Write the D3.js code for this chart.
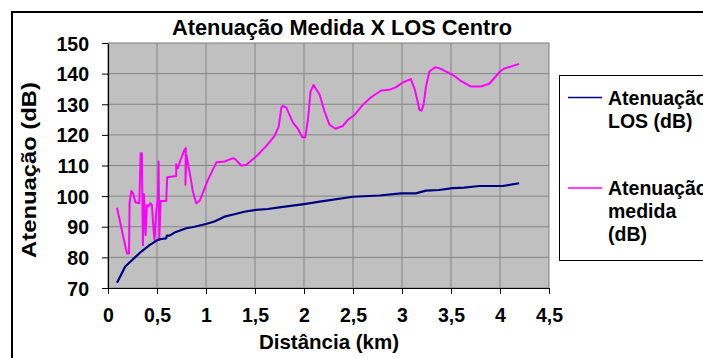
<!DOCTYPE html>
<html>
<head>
<meta charset="utf-8">
<script src="https://cdn.jsdelivr.net/npm/d3@7"></script>
<style>
  html, body { margin: 0; padding: 0; background: #fff; }
  svg { display: block; }
  text { font-family: "Liberation Sans", Arial, sans-serif; font-weight: bold; fill: #000; }
</style>
</head>
<body>
<script>
// ---- data ----
const title = "Atenuação Medida X LOS Centro";
const xTitle = "Distância (km)";
const yTitle = "Atenuação (dB)";
const xTicks = [0, 0.5, 1, 1.5, 2, 2.5, 3, 3.5, 4, 4.5];
const yTicks = [70, 80, 90, 100, 110, 120, 130, 140, 150];
const seriesNames = [["Atenuação", "LOS (dB)"], ["Atenuação", "medida", "(dB)"]];
const seriesColors = ["#000080", "#ff00ff"];

const distLOS = [0.092,0.176,0.255,0.34,0.424,0.509,0.543,0.594,0.6,0.628,0.679,0.797,0.882,1.0,1.086,1.188,1.29,1.39,1.51,1.63,1.765,1.884,2.0,2.16,2.5,2.77,2.99,3.14,3.245,3.38,3.516,3.635,3.79,4.025,4.195];
const attLOS  = [71.7,77,79.4,81.9,84,85.7,86,86.2,87.1,87.1,88.1,89.5,90,90.9,91.7,93.3,94.1,94.9,95.5,95.8,96.4,96.9,97.4,98.2,99.8,100.2,100.9,100.9,101.8,102,102.6,102.8,103.3,103.3,104.2];

const distMeas = [0.092,0.193,0.215,0.22,0.238,0.255,0.28,0.32,0.333,0.346,0.356,0.367,0.384,0.397,0.414,0.431,0.448,0.465,0.475,0.492,0.509,0.516,0.523,0.537,0.594,0.604,0.696,0.696,0.713,0.74,0.78,0.794,0.79,0.80,0.832,0.866,0.9,0.934,1.02,1.107,1.19,1.276,1.3,1.36,1.41,1.53,1.616,1.70,1.742,1.769,1.785,1.82,1.887,1.938,1.983,2.013,2.04,2.067,2.098,2.16,2.21,2.26,2.32,2.396,2.447,2.515,2.6,2.685,2.787,2.87,2.94,3.007,3.09,3.126,3.16,3.177,3.2,3.22,3.245,3.28,3.337,3.38,3.466,3.55,3.6,3.70,3.805,3.89,3.94,4.0,4.04,4.11,4.195];
const attMeas  = [96.2,81.3,81.3,97.7,101.7,101,98,97.7,114,114,84,100.6,87.3,97.1,96.6,97.7,97.1,89,85.7,95,99.3,111.3,85.7,98.4,98.4,106.2,106.6,110.4,109.1,111.8,115.1,115.7,103.7,113.5,108,101.5,97.7,98.4,105.3,111.1,111.3,112.4,112,110,110.2,113.5,116.4,119.7,122.7,128.9,129.5,128.9,124,122,119.2,119.2,124.9,134.2,136.3,133.1,127.6,123.3,122,122.9,124.9,126.5,129.8,132.3,134.5,134.7,135.6,137.1,138.2,135.3,130.9,128.2,127.9,129.8,135.8,140.7,142.1,141.8,140.4,138.9,137.6,135.8,135.8,136.7,138.5,140.7,141.6,142.3,143.2];

// ---- layout ----
const W = 703, H = 358;
const plot = { left: 108, right: 549, top: 43, bottom: 288 };

const svg = d3.select("body").append("svg").attr("width", W).attr("height", H);

// outer frame (extends beyond the visible window)
svg.append("rect").attr("x", 12).attr("y", 12).attr("width", 760).attr("height", 400)
  .attr("fill", "#fff").attr("stroke", "#000").attr("stroke-width", 2);

const x = d3.scaleLinear().domain([0, 4.5]).range([plot.left, plot.right]);
const y = d3.scaleLinear().domain([70, 150]).range([plot.bottom, plot.top]);

// plot background
svg.append("rect").attr("x", plot.left).attr("y", plot.top)
  .attr("width", plot.right - plot.left).attr("height", plot.bottom - plot.top)
  .attr("fill", "#c0c0c0").attr("stroke", "#808080").attr("stroke-width", 1);

// grid
svg.append("g").selectAll("line").data(yTicks.slice(1, -1)).join("line")
  .attr("x1", plot.left).attr("x2", plot.right)
  .attr("y1", d => y(d)).attr("y2", d => y(d))
  .attr("stroke", "#858585").attr("stroke-width", 1);
svg.append("g").selectAll("line").data(xTicks.slice(1, -1)).join("line")
  .attr("y1", plot.top).attr("y2", plot.bottom)
  .attr("x1", d => x(d)).attr("x2", d => x(d))
  .attr("stroke", "#858585").attr("stroke-width", 1);

// axes
const fmtX = d => String(d).replace(".", ",");
const gx = svg.append("g").attr("transform", `translate(0,${plot.bottom})`)
  .call(d3.axisBottom(x).tickValues(xTicks).tickFormat(fmtX).tickSize(6).tickSizeOuter(0));
gx.select(".domain").attr("stroke", "#000").attr("stroke-width", 1.2);
gx.selectAll(".tick line").attr("stroke", "#000");
gx.selectAll("text").attr("y", 34).attr("dy", 0)
  .style("font-size", "19.5px").style("font-family", "Liberation Sans, Arial, sans-serif").style("font-weight", "bold").attr("fill", "#000");

const gy = svg.append("g").attr("transform", `translate(${plot.left},0)`)
  .call(d3.axisLeft(y).tickValues(yTicks).tickFormat(d3.format("d")).tickSize(6).tickSizeOuter(0));
gy.select(".domain").attr("stroke", "#000").attr("stroke-width", 1.2);
gy.selectAll(".tick line").attr("stroke", "#000");
gy.selectAll("text").attr("x", -19).attr("dy", "0.36em")
  .style("font-size", "19.5px").style("font-family", "Liberation Sans, Arial, sans-serif").style("font-weight", "bold").attr("fill", "#000");

// lines
const line = d3.line().x(d => x(d[0])).y(d => y(d[1]));
const dataLOS = distLOS.map((d, i) => [d, attLOS[i]]);
const dataMeas = distMeas.map((d, i) => [d, attMeas[i]]);

svg.append("path").datum(dataMeas).attr("d", line)
  .attr("fill", "none").attr("stroke", seriesColors[1]).attr("stroke-width", 2).attr("stroke-linejoin", "round");
svg.append("path").datum(dataLOS).attr("d", line)
  .attr("fill", "none").attr("stroke", seriesColors[0]).attr("stroke-width", 2.2).attr("stroke-linejoin", "round");

// titles
svg.append("text").attr("x", 342).attr("y", 35).attr("text-anchor", "middle")
  .style("font-size", "21.5px").attr("textLength", 340).attr("lengthAdjust", "spacingAndGlyphs").text(title);
svg.append("text").attr("x", 329).attr("y", 349).attr("text-anchor", "middle")
  .style("font-size", "20.5px").text(xTitle);
svg.append("text").attr("transform", "translate(36,170) rotate(-90)").attr("text-anchor", "middle")
  .style("font-size", "21px").attr("textLength", 176).attr("lengthAdjust", "spacingAndGlyphs").text(yTitle);

// legend
svg.append("rect").attr("x", 559.5).attr("y", 75.5).attr("width", 200).attr("height", 185)
  .attr("fill", "#fff").attr("stroke", "#000").attr("stroke-width", 1);
const legY = [97.5, 188];
const lg = svg.append("g");
seriesNames.forEach((lines, i) => {
  lg.append("line").attr("x1", 568).attr("x2", 602).attr("y1", legY[i]).attr("y2", legY[i])
    .attr("stroke", seriesColors[i]).attr("stroke-width", 1.5);
  lines.forEach((t, j) => {
    lg.append("text").attr("x", 608).attr("y", legY[i] + 7 + j * 23)
      .style("font-size", "19.5px").text(t);
  });
});
</script>
</body>
</html>
